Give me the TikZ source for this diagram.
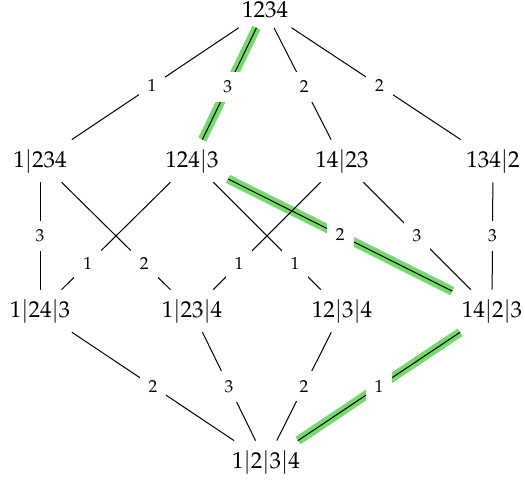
\documentclass[tikz,border=0pt]{standalone}
\usepackage{mathpazo}
\definecolor{hl}{RGB}{122,214,112}
\tikzset{
  part/.style={inner sep=4.5pt, anchor=base, font=\fontsize{11.5}{14}\selectfont},
  wt/.style={fill=white, inner sep=4.5pt, font=\fontsize{8.7}{10}\selectfont},
  link/.style={draw=black, line width=0.5pt},
  glow/.style={draw=hl, line width=4.5pt},
}
\begin{document}
\begin{tikzpicture}[x=0.5pt, y=-0.5pt]
  \useasboundingbox (0,0) rectangle (525,482);

  % partitions of {1,2,3,4}
  \node[part] (p1234)  at (265,18)  {$1234$};
  \node[part] (a1)     at (40,167)  {$1|234$};
  \node[part] (a2)     at (192,167) {$124|3$};
  \node[part] (a3)     at (342,167) {$14|23$};
  \node[part] (a4)     at (493,167) {$134|2$};
  \node[part] (b1)     at (40,317)  {$1|24|3$};
  \node[part] (b2)     at (192,317) {$1|23|4$};
  \node[part] (b3)     at (342,317) {$12|3|4$};
  \node[part] (b4)     at (492,317) {$14|2|3$};
  \node[part] (p1-2-3-4) at (266,468) {$1|2|3|4$};

  % highlighted chain
  \draw[glow] (p1234) -- (a2);
  \draw[glow] (a2) -- (b4);
  \draw[glow] (b4) -- (p1-2-3-4);

  % top level
  \draw[link] (p1234) -- node[wt, pos=.52]{$1$} (a1);
  \draw[link] (p1234) -- node[wt, pos=.53]{$3$} (a2);
  \draw[link] (p1234) -- node[wt, pos=.53]{$2$} (a3);
  \draw[link] (p1234) -- node[wt, pos=.52]{$2$} (a4);

  % middle level
  \draw[link] (a1) -- node[wt]{$3$} (b1);
  \draw[link] (a1) -- node[wt, pos=.76]{$2$} (b2);
  \draw[link] (a2) -- node[wt, pos=.76]{$1$} (b1);
  \draw[link] (a2) -- node[wt, pos=.76]{$1$} (b3);
  \draw[link] (a3) -- node[wt, pos=.76]{$1$} (b2);
  \draw[link] (a3) -- node[wt]{$3$} (b4);
  \draw[link] (a4) -- node[wt]{$3$} (b4);
  \draw[link] (a2) -- node[wt]{$2$} (b4);

  % bottom level
  \draw[link] (b1) -- node[wt]{$2$} (p1-2-3-4);
  \draw[link] (b2) -- node[wt]{$3$} (p1-2-3-4);
  \draw[link] (b3) -- node[wt]{$2$} (p1-2-3-4);
  \draw[link] (b4) -- node[wt]{$1$} (p1-2-3-4);
\end{tikzpicture}
\end{document}
